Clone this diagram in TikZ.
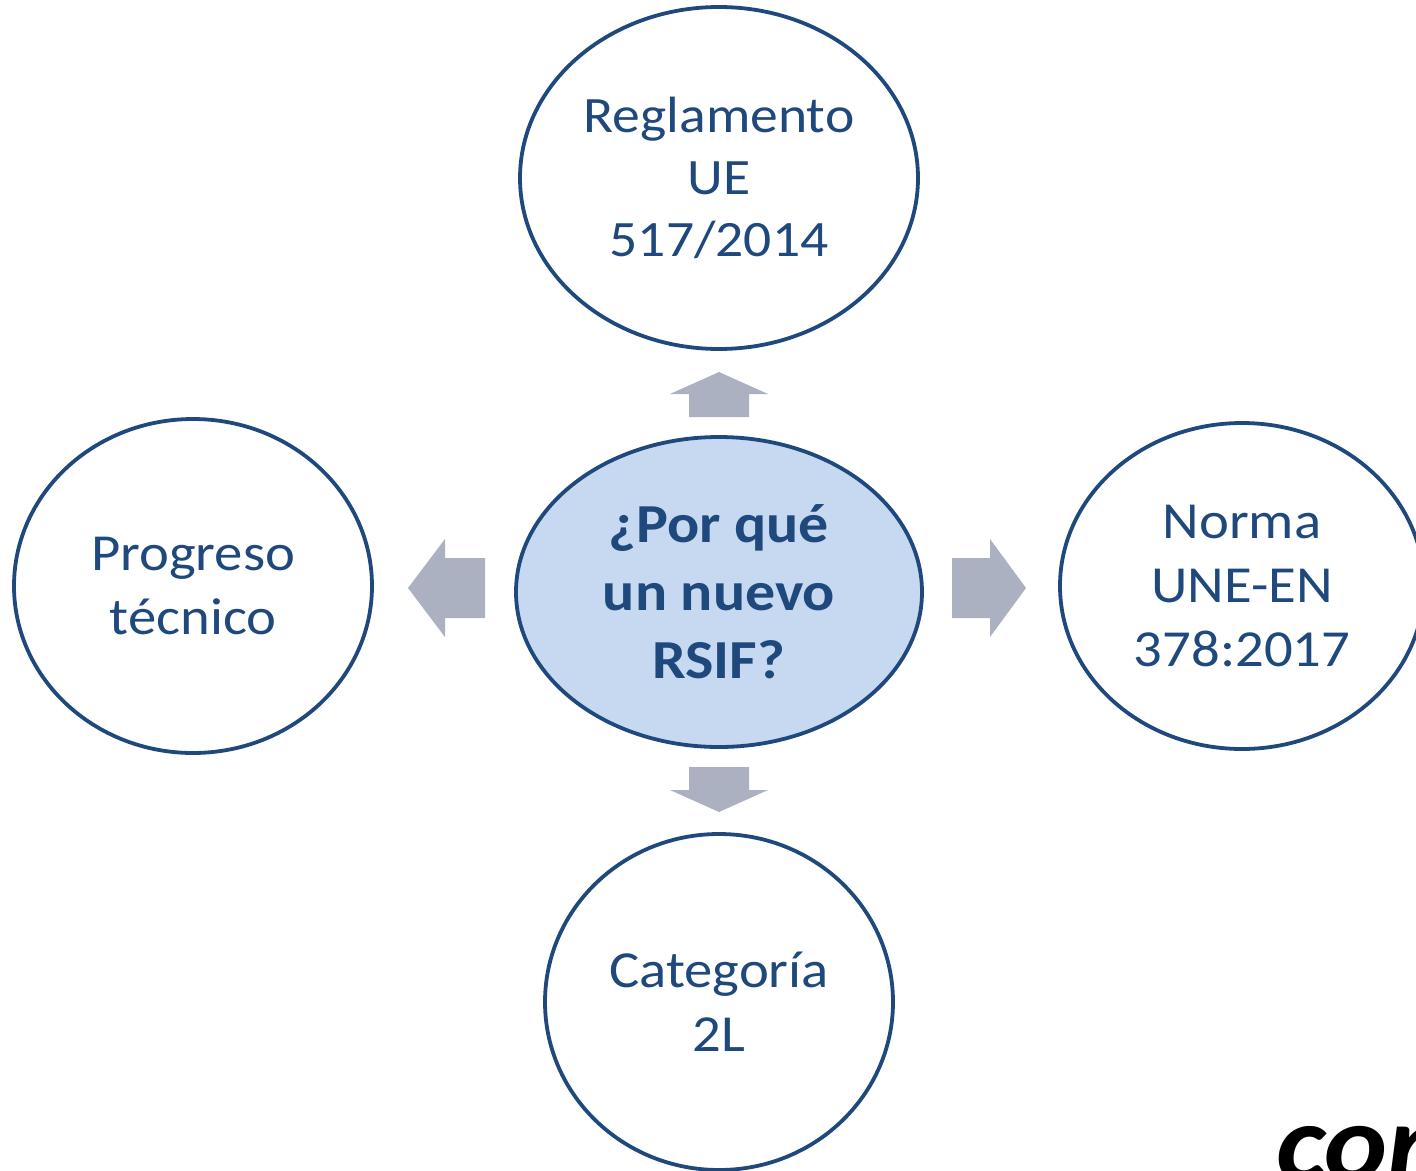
\documentclass[tikz,border=0pt]{standalone}
\usepackage{fontspec}
\setmainfont{Carlito}[FakeStretch=1.09]
\usetikzlibrary{shapes.geometric}
\definecolor{darkblue}{RGB}{31,73,125}
\definecolor{paleblue}{RGB}{198,217,241}
\definecolor{arrowgray}{RGB}{171,177,192}
\begin{document}
\begin{tikzpicture}[x=1pt,y=-1pt,
    bubble/.style={ellipse,draw=darkblue,line width=3.8pt,fill=white,text=darkblue,
      align=center,inner sep=0pt,font=\fontsize{52}{64}\selectfont},
    question/.style={bubble,fill=paleblue,font=\fontsize{55}{68}\selectfont\bfseries}]
  \useasboundingbox (0,0) rectangle (1416,1170);
  \clip (0,0) rectangle (1416,1170);
  % block arrows from the centre outwards
  \foreach \cx/\cy/\ang/\len/\hd in {719/394.5/90/45/22, 719/789.5/-90/45/22,
      446.5/588/180/77/37, 989/588/0/74/36}
    \fill[arrowgray,shift={(\cx,\cy)},rotate=\ang]
      (-\len/2,-30) -- (\len/2-\hd,-30) -- (\len/2-\hd,-49) -- (\len/2,0)
      -- (\len/2-\hd,49) -- (\len/2-\hd,30) -- (-\len/2,30) -- cycle;
  \node[question,minimum width=406,minimum height=310] (centre) at (719,592)
    {¿Por qué\\un nuevo\\RSIF?};
  \node[bubble,minimum width=398,minimum height=342,font=\fontsize{51}{62}\selectfont]
    (reglamento) at (719,178) {Reglamento\\UE\\517/2014};
  \node[bubble,minimum width=358,minimum height=334] (progreso) at (193,586)
    {Progreso\\técnico};
  \node[bubble,minimum width=364,minimum height=326] (norma) at (1242,586)
    {Norma\\UNE-EN\\378:2017};
  \node[bubble,minimum width=348,minimum height=336] (categoria) at (719,1002)
    {Categoría\\2L};
  \node[anchor=base west,inner sep=0pt,font=\fontsize{110}{110}\selectfont\bfseries\itshape]
    (logo) at (1276,1180) {con};
\end{tikzpicture}
\end{document}
